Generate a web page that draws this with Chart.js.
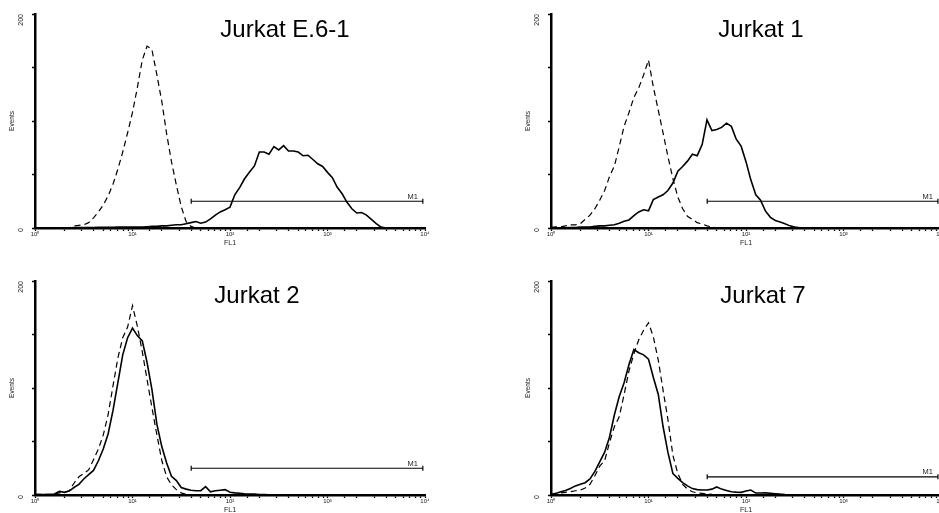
<!DOCTYPE html>
<html>
<head>
<meta charset="utf-8">
<title>Jurkat FL1 histograms</title>
<script src="https://cdn.jsdelivr.net/npm/chart.js@4.4.1/dist/chart.umd.min.js"></script>
<style>
  html, body { margin: 0; padding: 0; background: #fff; overflow: hidden; }
  body { width: 939px; height: 513px; position: relative; }
  canvas { position: absolute; }
</style>
</head>
<body>
<canvas id="p1" width="470" height="260" style="left:0;top:0"></canvas>
<canvas id="p2" width="480" height="260" style="left:470px;top:0"></canvas>
<canvas id="p3" width="470" height="267" style="left:0;top:260px"></canvas>
<canvas id="p4" width="480" height="267" style="left:470px;top:260px"></canvas>
<script>
// FL1 channels, 20 per decade from 10^0 to 10^4
const fl1 = [
  1, 1.12, 1.26, 1.41, 1.58, 1.78, 2, 2.24, 2.51, 2.82,
  3.16, 3.55, 3.98, 4.47, 5.01, 5.62, 6.31, 7.08, 7.94, 8.91,
  10, 11.2, 12.6, 14.1, 15.8, 17.8, 20, 22.4, 25.1, 28.2,
  31.6, 35.5, 39.8, 44.7, 50.1, 56.2, 63.1, 70.8, 79.4, 89.1,
  100, 112, 126, 141, 158, 178, 200, 224, 251, 282,
  316, 355, 398, 447, 501, 562, 631, 708, 794, 891,
  1000, 1122, 1259, 1413, 1585, 1778, 1995, 2239, 2512, 2818,
  3162, 3548, 3981, 4467, 5012, 5623, 6310, 7079, 7943, 8913,
  10000
];

// event counts per channel (dashed = control, solid = stained)
const e61Control = [
  0, 0, 0, 0, 0, 0, 0, 0, 2, 2.5,
  3, 5, 9.5, 15, 21.5, 30, 41, 55, 71, 89,
  108, 131, 157, 170, 167, 143, 118, 88, 62, 40,
  20, 6, 1.5, 0, 0, 0, 0, 0, 0, 0,
  0, 0, 0, 0, 0, 0, 0, 0, 0, 0,
  0, 0, 0, 0, 0, 0, 0, 0, 0, 0,
  0, 0, 0, 0, 0, 0, 0, 0, 0, 0,
  0, 0, 0, 0, 0, 0, 0, 0, 0, 0,
  0
];
const e61Stained = [
  0, 0, 0, 0, 0, 0, 0, 0, 0.5, 0.5,
  0.5, 0.5, 0.5, 0.6, 0.6, 0.7, 0.7, 0.8, 0.8, 1,
  1, 1, 1, 1.2, 1.5, 1.5, 2, 2, 2.5, 3,
  3, 4, 5, 6, 4.5, 5.5, 8.5, 12, 15, 17,
  19.5, 31, 38, 46, 52, 58, 71, 71, 69, 76,
  73, 77, 72, 72, 71, 67.5, 68, 64, 60, 57.5,
  52, 47, 38, 32, 24, 18, 14, 14.5, 12, 8,
  4, 0.8, 0, 0, 0, 0, 0, 0, 0, 0,
  0
];
const j1Control = [
  0.5, 1, 1, 2, 3, 3, 4, 8, 12, 18,
  26, 35, 48, 58, 76, 95, 108, 122, 131, 143,
  157, 132, 110, 89, 67, 46, 29, 18, 11, 8,
  5, 3.7, 2, 1, 0, 0, 0, 0, 0, 0,
  0, 0, 0, 0, 0, 0, 0, 0, 0, 0,
  0, 0, 0, 0, 0, 0, 0, 0, 0, 0,
  0, 0, 0, 0, 0, 0, 0, 0, 0, 0,
  0, 0, 0, 0, 0, 0, 0, 0, 0, 0,
  0
];
const j1Stained = [
  0.3, 0.3, 0.3, 0.3, 0.5, 0.5, 0.8, 1, 1, 1.5,
  2, 2, 2.5, 3, 4.5, 6.3, 7.5, 11.5, 15, 17,
  16, 26.5, 29, 31, 35, 42, 53, 57.5, 62.5, 69,
  67.6, 78, 101, 91, 92, 94, 98, 95, 83, 76.5,
  62, 45, 31, 26, 16, 10, 7, 5.5, 4, 2,
  1, 0.3, 0, 0, 0, 0, 0, 0, 0, 0,
  0, 0, 0, 0, 0, 0, 0, 0, 0, 0,
  0, 0, 0, 0, 0, 0, 0, 0, 0, 0,
  0
];
const j2Control = [
  0.5, 0.5, 0.5, 0.5, 1, 2, 2.5, 4, 11, 17,
  20, 23.5, 33, 43, 56, 75, 102, 128, 147, 157,
  177, 158, 134, 108, 82, 56, 32, 17, 9.5, 5,
  2, 0.5, 0, 0, 0, 0, 0, 0, 0, 0,
  0, 0, 0, 0, 0, 0, 0, 0, 0, 0,
  0, 0, 0, 0, 0, 0, 0, 0, 0, 0,
  0, 0, 0, 0, 0, 0, 0, 0, 0, 0,
  0, 0, 0, 0, 0, 0, 0, 0, 0, 0,
  0
];
const j2Stained = [
  0.5, 0.5, 0.5, 0.5, 1, 3.5, 2.5, 3.7, 7, 10,
  15, 19, 23, 32, 43, 57, 79, 105, 131, 147,
  156, 149, 144, 124, 99, 66, 45, 30, 17.5, 13.5,
  7, 5.5, 4.5, 4, 4, 7.8, 3, 4, 4.5, 5,
  2.5, 2, 1.6, 1.2, 1, 0.8, 0.5, 0.4, 0.3, 0,
  0, 0, 0, 0, 0, 0, 0, 0, 0, 0,
  0, 0, 0, 0, 0, 0, 0, 0, 0, 0,
  0, 0, 0, 0, 0, 0, 0, 0, 0, 0,
  0
];
const j7Control = [
  0.5, 1.2, 2, 2.5, 3, 4, 4.5, 6.5, 10, 18,
  27, 32, 49, 64, 73, 94, 116, 132, 145, 154,
  161, 148, 126, 98, 71, 37, 20, 10, 5.5, 3,
  2, 1.6, 1, 0.5, 0.3, 0, 0, 0, 0, 0,
  0, 0, 0, 0, 0, 0, 0, 0, 0, 0,
  0, 0, 0, 0, 0, 0, 0, 0, 0, 0,
  0, 0, 0, 0, 0, 0, 0, 0, 0, 0,
  0, 0, 0, 0, 0, 0, 0, 0, 0, 0,
  0
];
const j7Stained = [
  0.5, 1.5, 3, 4.2, 6, 8.5, 10, 11.5, 15, 22,
  31, 40, 54, 75, 92, 105, 122, 136, 133, 131,
  127, 110, 94, 64, 40, 20, 15.5, 11.5, 8.5, 6,
  5, 4.7, 4.7, 5.5, 7.5, 5.5, 4.3, 3, 2.7, 2.5,
  3.8, 4.6, 1.8, 1.8, 2, 1.6, 1.2, 0.8, 0.5, 0.3,
  0, 0, 0, 0, 0, 0, 0, 0, 0, 0,
  0, 0, 0, 0, 0, 0, 0, 0, 0, 0,
  0, 0, 0, 0, 0, 0, 0, 0, 0, 0,
  0
];

const panelTitles = ['Jurkat E.6-1', 'Jurkat 1', 'Jurkat 2', 'Jurkat 7'];

// M1 gate: start, end (FL1) and drawing height (events)
const m1Start = [40, 40, 40, 40];
const m1End = [9500, 9300, 9500, 9300];
const m1Level = [25, 25, 25, 17];

const xTickValues = [1, 10, 100, 1000, 10000];
const xTickLabels = ['10⁰', '10¹', '10²', '10³', '10⁴'];
const yTickValues = [0, 200];
const yTickLabels = ['0', '200'];

const FONT = '"Liberation Sans", Arial, Helvetica, sans-serif';

// title drawn inside the plot area
const panelTitle = {
  id: 'panelTitle',
  afterDraw(chart, args, opts) {
    const { ctx, chartArea } = chart;
    ctx.save();
    ctx.font = '24px ' + FONT;
    ctx.fillStyle = '#000';
    ctx.textAlign = 'center';
    ctx.fillText(opts.text, chartArea.left + opts.dx, chartArea.top + opts.dy);
    ctx.restore();
  }
};

// "M1" written over the right end of the gate
const gateLabel = {
  id: 'gateLabel',
  afterDatasetsDraw(chart) {
    const end = chart.getDatasetMeta(2).data[1];
    const { ctx } = chart;
    ctx.save();
    ctx.font = '7.5px ' + FONT;
    ctx.fillStyle = '#222';
    ctx.textAlign = 'right';
    ctx.fillText('M1', end.x - 5, end.y - 2.5);
    ctx.restore();
  }
};

function points(ys) {
  return fl1.map((x, i) => ({ x: x, y: ys[i] }));
}

function makePanel(id, k, control, stained, padLeft, padRight, padTop, titleDx, titleDy) {
  new Chart(document.getElementById(id), {
    type: 'line',
    data: {
      datasets: [
        { data: points(control), borderColor: '#000', borderWidth: 1.2, borderDash: [6, 4], pointRadius: 0 },
        { data: points(stained), borderColor: '#000', borderWidth: 1.6, pointRadius: 0 },
        {
          data: [{ x: m1Start[k], y: m1Level[k] }, { x: m1End[k], y: m1Level[k] }],
          borderColor: '#000', borderWidth: 1.2,
          pointStyle: 'line', pointRotation: 90, pointRadius: 2.5,
          pointBorderWidth: 1.2, pointBorderColor: '#000'
        }
      ]
    },
    options: {
      responsive: false,
      animation: false,
      events: [],
      layout: { padding: { left: padLeft, right: padRight, top: padTop, bottom: 0 } },
      plugins: {
        legend: { display: false },
        tooltip: { enabled: false },
        panelTitle: { text: panelTitles[k], dx: titleDx, dy: titleDy }
      },
      scales: {
        x: {
          type: 'logarithmic',
          min: 1,
          max: 10000,
          afterFit(s) { s.height = 32; s.paddingLeft = 0; s.paddingRight = 0; },
          border: { color: '#000', width: 2.5 },
          grid: { drawOnChartArea: false, color: '#000', tickLength: 3, tickWidth: 1.3 },
          ticks: {
            autoSkip: false, maxRotation: 0, minRotation: 0, padding: 0,
            color: '#222', font: { family: FONT, size: 6 },
            callback(v) {
              const j = xTickValues.findIndex(t => Math.abs(v - t) < t * 1e-6);
              return j < 0 ? '' : xTickLabels[j];
            }
          },
          title: { display: true, text: 'FL1', color: '#222', font: { family: FONT, size: 7 }, padding: { top: 0, bottom: 12.5 } }
        },
        y: {
          min: 0,
          max: 200,
          afterFit(s) { s.width = 35; s.paddingTop = 0; s.paddingBottom = 0; },
          border: { color: '#000', width: 2.5 },
          grid: { drawOnChartArea: false, color: '#000', tickLength: 3, tickWidth: 1.3 },
          ticks: {
            stepSize: 50, autoSkip: false, minRotation: 90, maxRotation: 90, padding: 10.5,
            color: '#222', font: { family: FONT, size: 7 },
            callback(v) {
              const j = yTickValues.indexOf(v);
              return j < 0 ? '' : yTickLabels[j];
            }
          },
          title: { display: true, text: 'Events', color: '#222', font: { family: FONT, size: 6.5 }, padding: { top: 8.5, bottom: 0 } }
        }
      }
    },
    plugins: [panelTitle, gateLabel]
  });
}

makePanel('p1', 0, e61Control, e61Stained, 0, 45, 14, 250, 23);
makePanel('p2', 1, j1Control, j1Stained, 46, 9, 14, 210, 23);
makePanel('p3', 2, j2Control, j2Stained, 0, 45, 21, 222, 21.5);
makePanel('p4', 3, j7Control, j7Stained, 46, 9, 21, 212, 21.5);
</script>
</body>
</html>
